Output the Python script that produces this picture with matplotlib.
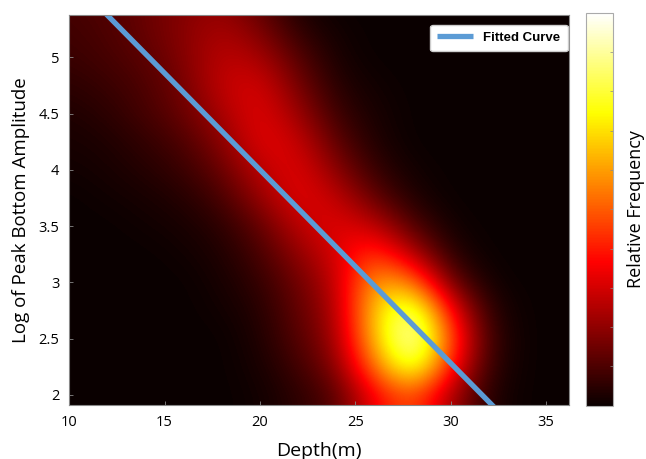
import numpy as np
import matplotlib
matplotlib.use("Agg")
import matplotlib.pyplot as plt

# grid of relative frequency
depth = [10, 12, 14, 16, 18, 20, 22, 24, 26, 28, 30, 32, 34, 36]
log_amp = [5.5, 5.25, 5.0, 4.75, 4.5, 4.25, 4.0, 3.75, 3.5, 3.25, 3.0, 2.75, 2.5, 2.25, 2.0]
freq = [
    [.09, .11, .14, .18, .20, .12, .02, .00, 0, 0, 0, 0, 0, 0],
    [.08, .10, .14, .19, .24, .17, .05, .01, 0, 0, 0, 0, 0, 0],
    [.07, .09, .12, .18, .27, .24, .11, .02, 0, 0, 0, 0, 0, 0],
    [.05, .07, .10, .16, .28, .31, .16, .04, .01, 0, 0, 0, 0, 0],
    [.03, .05, .09, .14, .24, .33, .22, .07, .02, 0, 0, 0, 0, 0],
    [.02, .03, .06, .10, .19, .33, .29, .12, .03, 0, 0, 0, 0, 0],
    [.01, .02, .04, .07, .14, .27, .33, .19, .06, .01, 0, 0, 0, 0],
    [0, .01, .02, .04, .09, .21, .33, .28, .13, .03, 0, 0, 0, 0],
    [0, 0, .01, .02, .05, .13, .27, .33, .28, .10, .01, 0, 0, 0],
    [0, 0, 0, .01, .03, .09, .20, .31, .46, .26, .04, 0, 0, 0],
    [0, 0, 0, 0, .02, .06, .15, .27, .62, .56, .14, .01, 0, 0],
    [0, 0, 0, 0, .01, .04, .13, .24, .68, .90, .36, .04, 0, 0],
    [0, 0, 0, 0, 0, .03, .11, .22, .66, 1.0, .48, .06, 0, 0],
    [0, 0, 0, 0, 0, .02, .08, .18, .54, .86, .40, .05, 0, 0],
    [0, 0, 0, 0, 0, .01, .05, .11, .36, .50, .23, .03, 0, 0],
]

# fitted line  y = intercept + slope * depth
fit_intercept = 7.44
fit_slope = -0.172
fit_depth = [11.5, 33.0]

plt.rcParams['font.family'] = ['Open Sans', 'DejaVu Sans']

fig = plt.figure(figsize=(6.46, 4.59), dpi=100)
ax = fig.add_axes([0.107, 0.118, 0.774, 0.850])
cax = fig.add_axes([0.907, 0.116, 0.042, 0.856])

dx = (depth[1] - depth[0]) / 2
dy = (log_amp[0] - log_amp[1]) / 2
im = ax.imshow(np.array(freq), cmap='hot', vmin=0, vmax=1, aspect='auto',
               interpolation='bicubic', origin='upper',
               extent=(depth[0] - dx, depth[-1] + dx, log_amp[-1] - dy, log_amp[0] + dy))

xs = np.array(fit_depth)
ax.plot(xs, fit_intercept + fit_slope * xs, color='#5b9bd5', lw=3.8,
        label='Fitted Curve', solid_capstyle='butt')

ax.set_xlim(10, 36.2)
ax.set_ylim(1.91, 5.38)
ax.set_xticks([10, 15, 20, 25, 30, 35])
ax.set_yticks([2, 2.5, 3, 3.5, 4, 4.5, 5])
ax.set_yticklabels(['2', '2.5', '3', '3.5', '4', '4.5', '5'])
ax.tick_params(direction='in', length=3, width=0.6, color='#888888', labelsize=10.5, pad=7)
for s in ax.spines.values():
    s.set_color('#888888')
    s.set_linewidth(0.8)
ax.set_xlabel('Depth(m)', fontsize=14, labelpad=9)
ax.set_ylabel('Log of Peak Bottom Amplitude', fontsize=13.5, labelpad=6)

leg = ax.legend(loc='upper right', fontsize=9.5, frameon=True, fancybox=True,
                handlelength=2.7, borderpad=0.55, borderaxespad=0.1,
                bbox_to_anchor=(1.0, 0.978))
leg.get_frame().set_facecolor('white')
leg.get_frame().set_edgecolor('#cccccc')
leg.get_frame().set_alpha(1)
for t in leg.get_texts():
    t.set_fontweight('bold')
    t.set_family(['Liberation Sans', 'DejaVu Sans'])

cb = fig.colorbar(im, cax=cax)
cb.set_ticks(np.linspace(0.1, 0.9, 9))
cb.ax.tick_params(direction='in', length=2, width=0.5, color='#888888', labelright=False)
cb.outline.set_edgecolor('#aaaaaa')
cb.outline.set_linewidth(0.8)
cb.set_label('Relative Frequency', fontsize=13, labelpad=10)

fig.savefig('out.png', dpi=100)
